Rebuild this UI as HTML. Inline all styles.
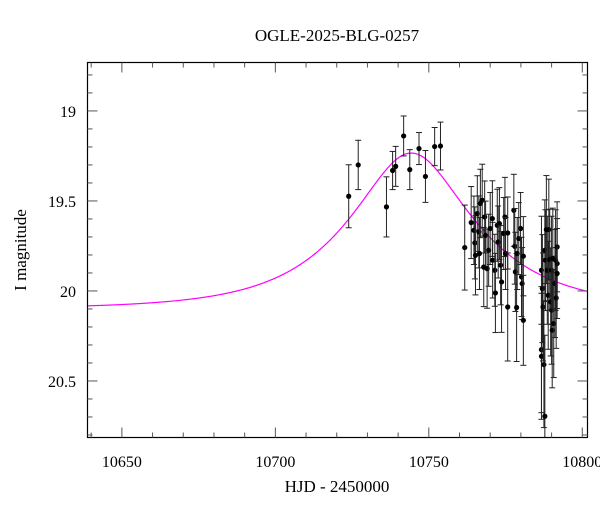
<!DOCTYPE html>
<html><head><meta charset="utf-8"><style>
body{margin:0;background:#fff}
svg{display:block;font-family:"Liberation Serif",serif}
</style></head><body>
<svg id="chart" width="600" height="512" viewBox="0 0 600 512">
<text x="337" y="41" font-size="17" text-anchor="middle">OGLE-2025-BLG-0257</text>
<text x="337" y="492" font-size="17" text-anchor="middle">HJD - 2450000</text>
<text transform="translate(26,250) rotate(-90)" font-size="17" text-anchor="middle">I magnitude</text>
<g id="plot"></g>
</svg>
<script>
const times=[10723.9,10727.0,10736.2,10738.2,10739.2,10741.8,10743.8,10746.8,10748.9,10751.9,10753.8,
10761.7,10763.8,10764.7,10765.0,10765.2,10765.8,10766.3,10766.5,10766.8,10767.4,10767.9,10768.2,10768.5,10769.0,10769.5,10770.0,10770.7,10770.8,10771.5,10771.7,10772.3,10772.6,10773.0,10773.4,10773.7,10774.4,10774.8,10775.0,10775.7,10775.7,10777.7,10778.0,10778.2,10778.6,10778.8,10779.3,10779.9,10780.2,10780.4,10780.8,10780.8,
10786.7,10786.7,10786.7,10787.0,10787.2,10787.5,10787.8,10787.8,10788.0,10788.3,10788.6,10788.9,10789.1,10789.4,10789.7,10790.0,10790.0,10790.2,10790.4,10790.7,10791.1,10791.3,10791.5,10791.8,10791.8,10791.8];
const mags=[19.474,19.30,19.533,19.331,19.308,19.139,19.326,19.209,19.364,19.198,19.195,
19.759,19.62,19.663,19.733,19.802,19.57,19.672,19.792,19.514,19.496,19.867,19.589,19.691,19.876,19.774,19.653,19.598,19.829,19.885,20.011,19.635,19.728,19.626,19.857,19.95,19.681,19.589,19.792,19.678,20.089,19.552,19.752,19.894,20.092,19.792,19.709,19.653,19.922,19.959,19.807,20.163,
20.326,20.363,19.885,19.987,20.089,20.409,20.696,19.774,19.829,19.659,19.885,20.024,19.659,19.826,20.061,19.885,20.107,20.218,19.82,20.181,19.959,19.829,20.039,19.755,19.848,19.903];
const errs=[0.175,0.137,0.167,0.106,0.111,0.111,0.111,0.089,0.144,0.106,0.133,
0.236,0.2,0.19,0.2,0.22,0.21,0.2,0.2,0.19,0.2,0.22,0.2,0.19,0.22,0.2,0.2,0.21,0.21,0.2,0.22,0.2,0.2,0.2,0.22,0.28,0.2,0.22,0.2,0.2,0.3,0.2,0.21,0.22,0.3,0.2,0.2,0.2,0.22,0.2,0.22,0.25,
0.35,0.35,0.3,0.3,0.3,0.35,0.45,0.28,0.28,0.3,0.3,0.3,0.28,0.28,0.3,0.3,0.3,0.32,0.28,0.3,0.3,0.28,0.28,0.25,0.25,0.25];
// PSPL model parameters: t0, u0, tE, baseline I mag
const modelParams=[10744.3,0.49,35,20.10];
const xTicks=[10650,10700,10750,10800];
const yTicks=[19,19.5,20,20.5];
const xDom=[10638.8,10801.7], yDom=[18.731,20.814];
const L=87.5,R=587.5,T=62.5,B=437.5;
const X=v=>L+(v-xDom[0])/(xDom[1]-xDom[0])*(R-L);
const Y=v=>T+(v-yDom[0])/(yDom[1]-yDom[0])*(B-T);
const NS="http://www.w3.org/2000/svg";
const g=document.getElementById('plot');
function mk(tag,at,parent){const e=document.createElementNS(NS,tag);for(const k in at)e.setAttribute(k,at[k]);(parent||g).appendChild(e);return e;}
// model curve
let d="";
for(let i=0;i<=400;i++){const t=xDom[0]+i/400*(xDom[1]-xDom[0]);const tau=(t-modelParams[0])/modelParams[2];const u=Math.sqrt(modelParams[1]**2+tau*tau);const A=(u*u+2)/(u*Math.sqrt(u*u+4));const m=modelParams[3]-2.5*Math.log10(A);d+=(i?"L":"M")+X(t).toFixed(2)+","+Y(m).toFixed(2);}
const curve=mk('path',{d:d,fill:'none',stroke:'#ff00ff','stroke-width':1.2});


// points
for(let i=0;i<times.length;i++){
 const x=X(times[i]),y=Y(mags[i]);
 const y1=Math.max(T,Y(mags[i]-errs[i])),y2=Math.min(B,Y(mags[i]+errs[i]));
 const p=mk('g',{});
 
 
 mk('line',{x1:x,x2:x,y1:y1,y2:y2,stroke:'#222','stroke-width':1},p);
 mk('line',{x1:x-3,x2:x+3,y1:y1,y2:y1,stroke:'#222','stroke-width':1},p);
 mk('line',{x1:x-3,x2:x+3,y1:y2,y2:y2,stroke:'#222','stroke-width':1},p);
 mk('circle',{cx:x,cy:y,r:2.6,fill:'#000'},p);
}
// frame
const fr=mk('rect',{x:L,y:T,width:R-L,height:B-T,fill:'none',stroke:'#000','stroke-width':1.2});


// x ticks
for(let v=10640;v<=10800;v+=10){const x=X(v);const maj=v%50===0;const len=maj?10:5;
 mk('line',{x1:x,x2:x,y1:B,y2:B-len,stroke:'#555','stroke-width':1});
 mk('line',{x1:x,x2:x,y1:T,y2:T+len,stroke:'#555','stroke-width':1});}
xTicks.forEach(v=>{const t=mk('text',{x:X(v),y:467,'font-size':16,'text-anchor':'middle'});t.textContent=v;
 
 });
// y ticks
for(let k=188;k<=208;k++){const v=k/10;const y=Y(v);if(y<T||y>B)continue;const maj=k%5===0;const len=maj?10:5;
 mk('line',{x1:L,x2:L+len,y1:y,y2:y,stroke:'#555','stroke-width':1});
 mk('line',{x1:R,x2:R-len,y1:y,y2:y,stroke:'#555','stroke-width':1});}
yTicks.forEach(v=>{const t=mk('text',{x:76,y:Y(v)+6,'font-size':16,'text-anchor':'end'});t.textContent=v;
 
 });
</script>
</body></html>
